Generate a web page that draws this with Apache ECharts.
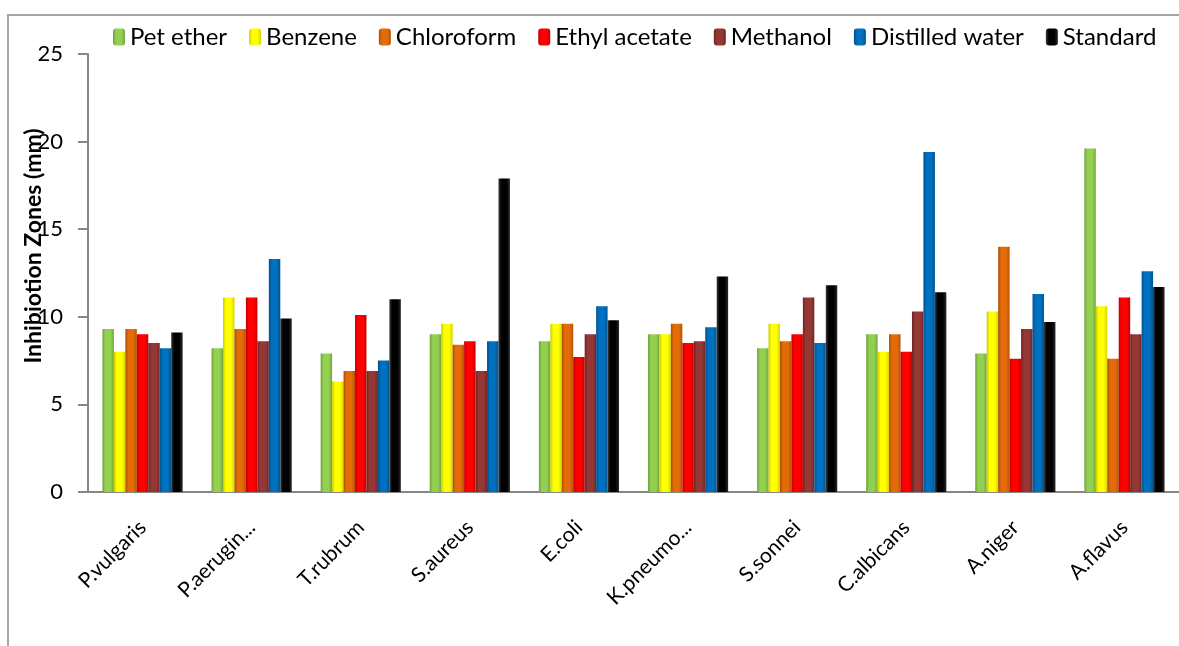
<!DOCTYPE html>
<html>
<head>
<meta charset="utf-8">
<script src="https://cdn.jsdelivr.net/npm/echarts@6/dist/echarts.min.js"></script>
<style>
  html, body { margin: 0; padding: 0; background: #fff; }
  #main { width: 1179px; height: 646px; }
</style>
</head>
<body>
<div id="main"></div>
<script>
var myChart = echarts.init(document.getElementById('main'));

// organisms on the x axis (as printed, truncated ones too)
var categories = ['P.vulgaris', 'P.aerugin...', 'T.rubrum', 'S.aureus', 'E.coli',
                  'K.pneumo...', 'S.sonnei', 'C.albicans', 'A.niger', 'A.flavus'];
var yTicks = [0, 5, 10, 15, 20, 25];

// inhibition zones (mm) per solvent extract
var petEther       = [9.3, 8.2, 7.9, 9.0, 8.6, 9.0, 8.2, 9.0, 7.9, 19.6];
var benzene        = [8.0, 11.1, 6.3, 9.6, 9.6, 9.0, 9.6, 8.0, 10.3, 10.6];
var chloroform     = [9.3, 9.3, 6.9, 8.4, 9.6, 9.6, 8.6, 9.0, 14.0, 7.6];
var ethylAcetate   = [9.0, 11.1, 10.1, 8.6, 7.7, 8.5, 9.0, 8.0, 7.6, 11.1];
var methanol       = [8.5, 8.6, 6.9, 6.9, 9.0, 8.6, 11.1, 10.3, 9.3, 9.0];
var distilledWater = [8.2, 13.3, 7.5, 8.6, 10.6, 9.4, 8.5, 19.4, 11.3, 12.6];
var standard       = [9.1, 9.9, 11.0, 17.9, 9.8, 12.3, 11.8, 11.4, 9.7, 11.7];

var font = 'Lato, "Open Sans", sans-serif';

// side-lit bar look: darker edges, bright middle
function shade(edge, mid, edge2) {
    return new echarts.graphic.LinearGradient(0, 0, 1, 0, [
        { offset: 0, color: edge },
        { offset: 0.25, color: mid },
        { offset: 0.7, color: mid },
        { offset: 1, color: edge2 }
    ]);
}

function bar(name, data, fill) {
    return {
        name: name,
        type: 'bar',
        data: data,
        barGap: '0%',
        barCategoryGap: '26.5%',
        itemStyle: { color: fill },
        emphasis: { disabled: true }
    };
}

var option = {
    animation: false,
    textStyle: { fontFamily: font },
    legend: {
        top: 20,
        left: 108,
        itemWidth: 12,
        itemHeight: 17,
        itemGap: 22,
        textStyle: { fontSize: 24, color: '#000', fontFamily: font },
        data: ['Pet ether', 'Benzene', 'Chloroform', 'Ethyl acetate', 'Methanol', 'Distilled water', 'Standard']
    },
    grid: {
        left: 88,
        right: -11,
        top: 54,
        bottom: 154,
        containLabel: false
    },
    xAxis: {
        type: 'category',
        data: categories,
        axisLine: { lineStyle: { color: '#868686', width: 2 } },
        axisTick: { show: false },
        axisLabel: {
            rotate: 45,
            interval: 0,
            margin: 32,
            fontSize: 21,
            color: '#000',
            fontFamily: font
        }
    },
    yAxis: {
        type: 'value',
        min: yTicks[0],
        max: yTicks[yTicks.length - 1],
        interval: 5,
        splitLine: { show: false },
        axisLine: { show: true, lineStyle: { color: '#868686', width: 2 } },
        axisTick: { show: true, length: 10, lineStyle: { color: '#868686', width: 2 } },
        axisLabel: { margin: 25, fontSize: 22, color: '#000', fontFamily: font }
    },
    graphic: [
        {
            type: 'rect',
            silent: true,
            shape: { x: 8, y: 15, width: 1300, height: 800 },
            style: { fill: 'none', stroke: '#a6a6a6', lineWidth: 2 }
        },
        {
            type: 'text',
            silent: true,
            x: 34,
            y: 246,
            rotation: Math.PI / 2,
            style: {
                text: 'Inhibiotion Zones (mm)',
                font: 'bold 23px ' + font,
                fill: '#000',
                textAlign: 'center',
                textVerticalAlign: 'middle'
            }
        }
    ],
    series: [
        bar('Pet ether', petEther, shade('#6f9e3d', '#92d050', '#74a541')),
        bar('Benzene', benzene, shade('#c9c900', '#ffff00', '#d4d400')),
        bar('Chloroform', chloroform, shade('#a84c05', '#e36c09', '#b45306')),
        bar('Ethyl acetate', ethylAcetate, shade('#c00000', '#ff0000', '#c80000')),
        bar('Methanol', methanol, shade('#6b2523', '#953735', '#6f2725')),
        bar('Distilled water', distilledWater, shade('#004f8a', '#0070c0', '#00538f')),
        bar('Standard', standard, shade('#3a3a3a', '#000000', '#2a2a2a'))
    ]
};

myChart.setOption(option);
</script>
</body>
</html>
